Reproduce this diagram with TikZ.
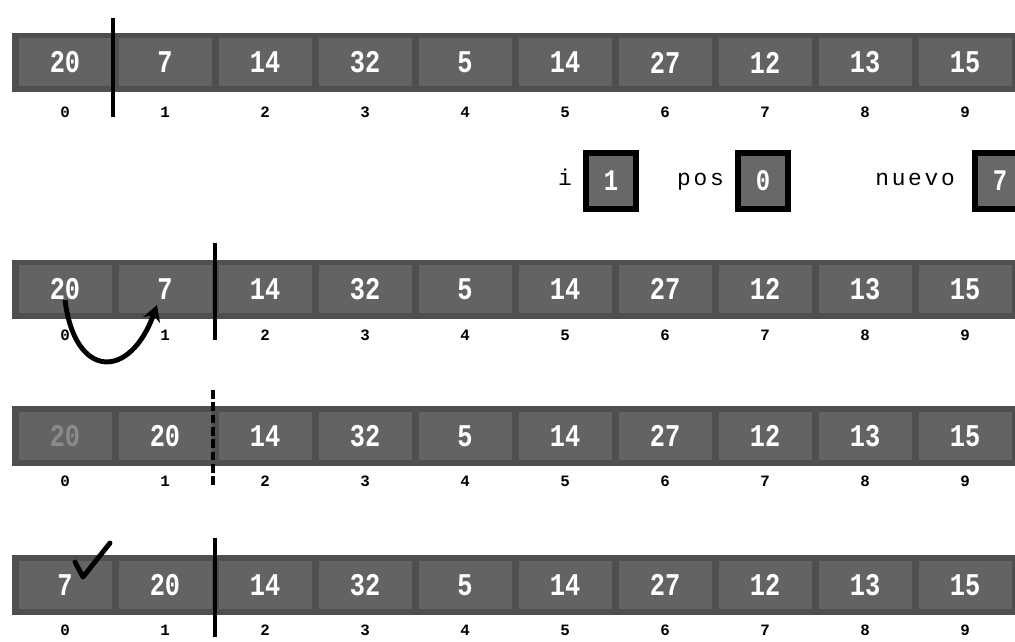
\documentclass[tikz,border=0pt]{standalone}
\usepackage{fontspec}
\newfontfamily\cellfont[FakeStretch=0.8]{Liberation Mono}
\newfontfamily\labelfont[LetterSpace=12]{Liberation Mono}
\newfontfamily\idxfont{Liberation Mono}
\usetikzlibrary{positioning, arrows.meta}
\definecolor{bargray}{HTML}{4F4F4F}
\definecolor{cellgray}{HTML}{636363}
\definecolor{boxgray}{HTML}{686868}
\definecolor{fadegray}{HTML}{8A8A8A}
\begin{document}
\begin{tikzpicture}[
        cell/.style={rectangle, fill=cellgray, minimum width=1.86cm, minimum height=0.96cm, inner sep=0pt, text=white, font=\cellfont\bfseries\fontsize{18pt}{18pt}\selectfont},
        idx/.style={inner sep=0pt, font=\idxfont\bfseries\fontsize{9pt}{9pt}\selectfont},
        valbox/.style={rectangle, draw=black, line width=3.2pt, fill=boxgray, minimum width=1.0cm, minimum height=1.12cm, inner sep=0pt, text=white, font=\cellfont\bfseries\fontsize{17pt}{17pt}\selectfont},
        varlabel/.style={inner sep=0pt, text height=1.6ex, text depth=0.5ex, font=\labelfont\fontsize{13pt}{13pt}\selectfont},
        divider/.style={line width=2.8pt},
        swaparrow/.style={-{Stealth[length=9pt, width=10pt]}, line width=2.8pt},
        tick/.style={line width=2.8pt, line cap=round, line join=round}
    ]
    \useasboundingbox[fill=white] (0,0) rectangle (20.3,-12.82);
    \clip (0,0) rectangle (20.3,-12.82);

    % row 1
    \fill[bargray] (0.24,-0.66) rectangle (20.6,-1.84);
    \foreach \v [count=\k from 0] in {20,7,14,32,5,14,27,12,13,15} {
        \node[cell] (a\k) at (1.3+2*\k, -1.25) {\v};
        \node[idx] (ai\k) at (1.3+2*\k, -2.24) {\k};
    }
    \coordinate (s1t) at (2.26, -0.36);
    \coordinate (s1b) at (2.26, -2.34);
    \draw[divider] (s1t) -- (s1b);

    % variables
    \node[valbox] (ibox) at (12.22, -3.62) {1};
    \node[varlabel, left=0.22cm of ibox] (ilab) {i};
    \node[valbox] (posbox) at (15.26, -3.62) {0};
    \node[varlabel, left=0.22cm of posbox] (poslab) {pos};
    \node[valbox] (nbox) at (20.0, -3.62) {7};
    \node[varlabel, left=0.34cm of nbox] (nlab) {nuevo};

    % row 2
    \fill[bargray] (0.24,-5.19) rectangle (20.6,-6.37);
    \foreach \v [count=\k from 0] in {20,7,14,32,5,14,27,12,13,15} {
        \node[cell] (b\k) at (1.3+2*\k, -5.78) {\v};
        \node[idx] (bi\k) at (1.3+2*\k, -6.7) {\k};
    }
    \coordinate (s2t) at (4.3, -4.86);
    \coordinate (s2b) at (4.3, -6.8);
    \draw[divider] (s2t) -- (s2b);
    \draw[swaparrow] ([yshift=-0.22cm]b0.center) .. controls +(0.2,-1.6) and +(-0.54,-1.5) .. ([shift={(-0.16cm,-0.32cm)}]b1.center);

    % row 3
    \fill[bargray] (0.24,-8.12) rectangle (20.6,-9.32);
    \node[cell, text=fadegray] (c0) at (1.3, -8.72) {20};
    \node[idx] (ci0) at (1.3, -9.62) {0};
    \foreach \v [count=\k from 1] in {20,14,32,5,14,27,12,13,15} {
        \node[cell] (c\k) at (1.3+2*\k, -8.72) {\v};
        \node[idx] (ci\k) at (1.3+2*\k, -9.62) {\k};
    }
    \coordinate (s3t) at (4.26, -7.8);
    \coordinate (s3b) at (4.26, -9.76);
    \draw[divider, dash pattern=on 5pt off 2pt] (s3t) -- (s3b);

    % row 4
    \fill[bargray] (0.24,-11.1) rectangle (20.6,-12.3);
    \foreach \v [count=\k from 0] in {7,20,14,32,5,14,27,12,13,15} {
        \node[cell] (d\k) at (1.3+2*\k, -11.7) {\v};
        \node[idx] (di\k) at (1.3+2*\k, -12.6) {\k};
    }
    \coordinate (s4t) at (4.3, -10.76);
    \coordinate (s4b) at (4.3, -12.74);
    \draw[divider] (s4t) -- (s4b);
    \draw[tick] ([shift={(0.2,0.46)}]d0.center) -- ++(0.16,-0.3) -- ++(0.54,0.68);
\end{tikzpicture}
\end{document}
